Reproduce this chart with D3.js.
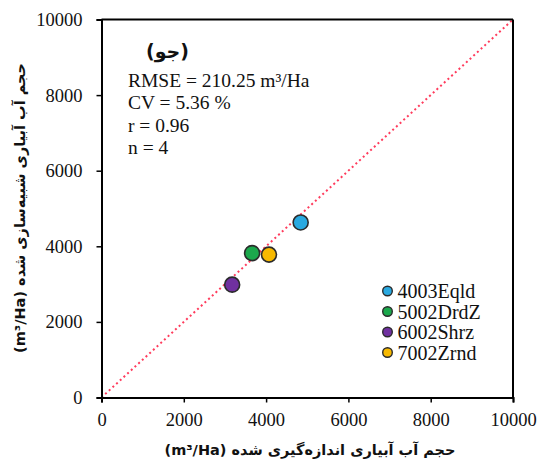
<!DOCTYPE html>
<html>
<head>
<meta charset="utf-8">
<script src="https://cdn.jsdelivr.net/npm/d3@7"></script>
<style>
  html, body { margin: 0; padding: 0; background: #fff; }
  svg { display: block; }
  text { font-family: "Liberation Serif", "DejaVu Serif", serif; }
  .fa { font-family: "DejaVu Sans", "Noto Sans", sans-serif; font-weight: bold; }
</style>
</head>
<body>
<svg id="chart" width="539" height="462"></svg>
<script>
// Stations and their measured vs simulated irrigation volume (m3/Ha)
const stations = ["4003Eqld", "5002DrdZ", "6002Shrz", "7002Zrnd"];
const measured = [4840, 3660, 3175, 4070];
const simulated = [4630, 3820, 2985, 3780];
const colors = ["#2aa9e0", "#1ba84c", "#7030a0", "#f7b900"];
const xTicks = [0, 2000, 4000, 6000, 8000, 10000];
const yTicks = [0, 2000, 4000, 6000, 8000, 10000];
const statsLines = ["RMSE = 210.25 m³/Ha", "CV = 5.36 %", "r = 0.96", "n = 4"];
const panelLabel = "(جو)";
const xTitle = "حجم آب آبیاری اندازه‌گیری شده (m³/Ha)";
const yTitle = "حجم آب آبیاری شبیه‌سازی شده  (m³/Ha)";

const svg = d3.select("#chart");
const margin = { left: 101.5, top: 19.5, right: 26, bottom: 64.5 };
const W = 539, H = 462;
const iw = W - margin.left - margin.right;
const ih = H - margin.top - margin.bottom;

const x = d3.scaleLinear().domain([0, 10000]).range([0, iw]);
const y = d3.scaleLinear().domain([0, 10000]).range([ih, 0]);

const g = svg.append("g").attr("transform", `translate(${margin.left},${margin.top})`);

// 1:1 reference line
g.append("line")
  .attr("x1", x(0)).attr("y1", y(0))
  .attr("x2", x(10000)).attr("y2", y(10000))
  .attr("stroke", "#ff3b5c").attr("stroke-width", 2)
  .attr("stroke-dasharray", "2,3");

// frame on top and right
g.append("line").attr("x1", 0).attr("x2", iw).attr("y1", 0).attr("y2", 0)
  .attr("stroke", "#000").attr("stroke-width", 2);
g.append("line").attr("x1", iw).attr("x2", iw).attr("y1", 0).attr("y2", ih)
  .attr("stroke", "#000").attr("stroke-width", 2);

// axes
const xAxis = g.append("g").attr("transform", `translate(0,${ih})`)
  .call(d3.axisBottom(x).tickValues(xTicks).tickFormat(d3.format("d")).tickSize(5).tickPadding(10));
const yAxis = g.append("g")
  .call(d3.axisLeft(y).tickValues(yTicks).tickFormat(d3.format("d")).tickSize(5).tickPadding(14));
[xAxis, yAxis].forEach(a => {
  a.select(".domain").attr("stroke", "#000").attr("stroke-width", 2);
  a.selectAll(".tick line").attr("stroke", "#000").attr("stroke-width", 1.5);
  a.selectAll(".tick text").attr("fill", "#111").style("font-size", "18.5px")
    .style("font-family", "'Liberation Serif', serif");
});

// data points
const pts = stations.map((s, i) => ({ s, mx: measured[i], sy: simulated[i], c: colors[i] }));
g.selectAll("circle.pt").data(pts).enter().append("circle")
  .attr("class", "pt")
  .attr("cx", d => x(d.mx)).attr("cy", d => y(d.sy)).attr("r", 7.5)
  .attr("fill", d => d.c).attr("stroke", "#2b2b2b").attr("stroke-width", 1.6);

// panel label
g.append("text").attr("class", "fa")
  .attr("x", 66).attr("y", 38.5).attr("text-anchor", "middle")
  .attr("direction", "rtl")
  .style("font-size", "19px").attr("fill", "#111").text(panelLabel);

// statistics
g.selectAll("text.stat").data(statsLines).enter().append("text")
  .attr("class", "stat")
  .attr("x", 26.5).attr("y", (d, i) => 67.5 + i * 22.3)
  .style("font-size", "19.5px").attr("fill", "#111").text(d => d);

// legend
const leg = g.append("g").attr("transform", `translate(${387.5 - margin.left},${291 - margin.top})`);
const li = leg.selectAll("g").data(pts).enter().append("g")
  .attr("transform", (d, i) => `translate(0,${i * 20.5})`);
li.append("circle").attr("r", 4.8).attr("fill", d => d.c)
  .attr("stroke", "#2b2b2b").attr("stroke-width", 1.4);
li.append("text").attr("x", 10).attr("dy", "0.35em")
  .style("font-size", "20px").attr("fill", "#111").text(d => d.s);

// axis titles
svg.append("text").attr("class", "fa")
  .attr("x", 310).attr("y", 455).attr("text-anchor", "middle")
  .attr("direction", "rtl").style("unicode-bidi", "embed")
  .style("font-size", "14.5px").attr("fill", "#111").text(xTitle);
svg.append("text").attr("class", "fa")
  .attr("transform", "translate(25,208) rotate(-90)")
  .attr("text-anchor", "middle")
  .attr("direction", "rtl").style("unicode-bidi", "embed")
  .style("font-size", "14.5px").attr("fill", "#111").text(yTitle);
</script>
</body>
</html>
